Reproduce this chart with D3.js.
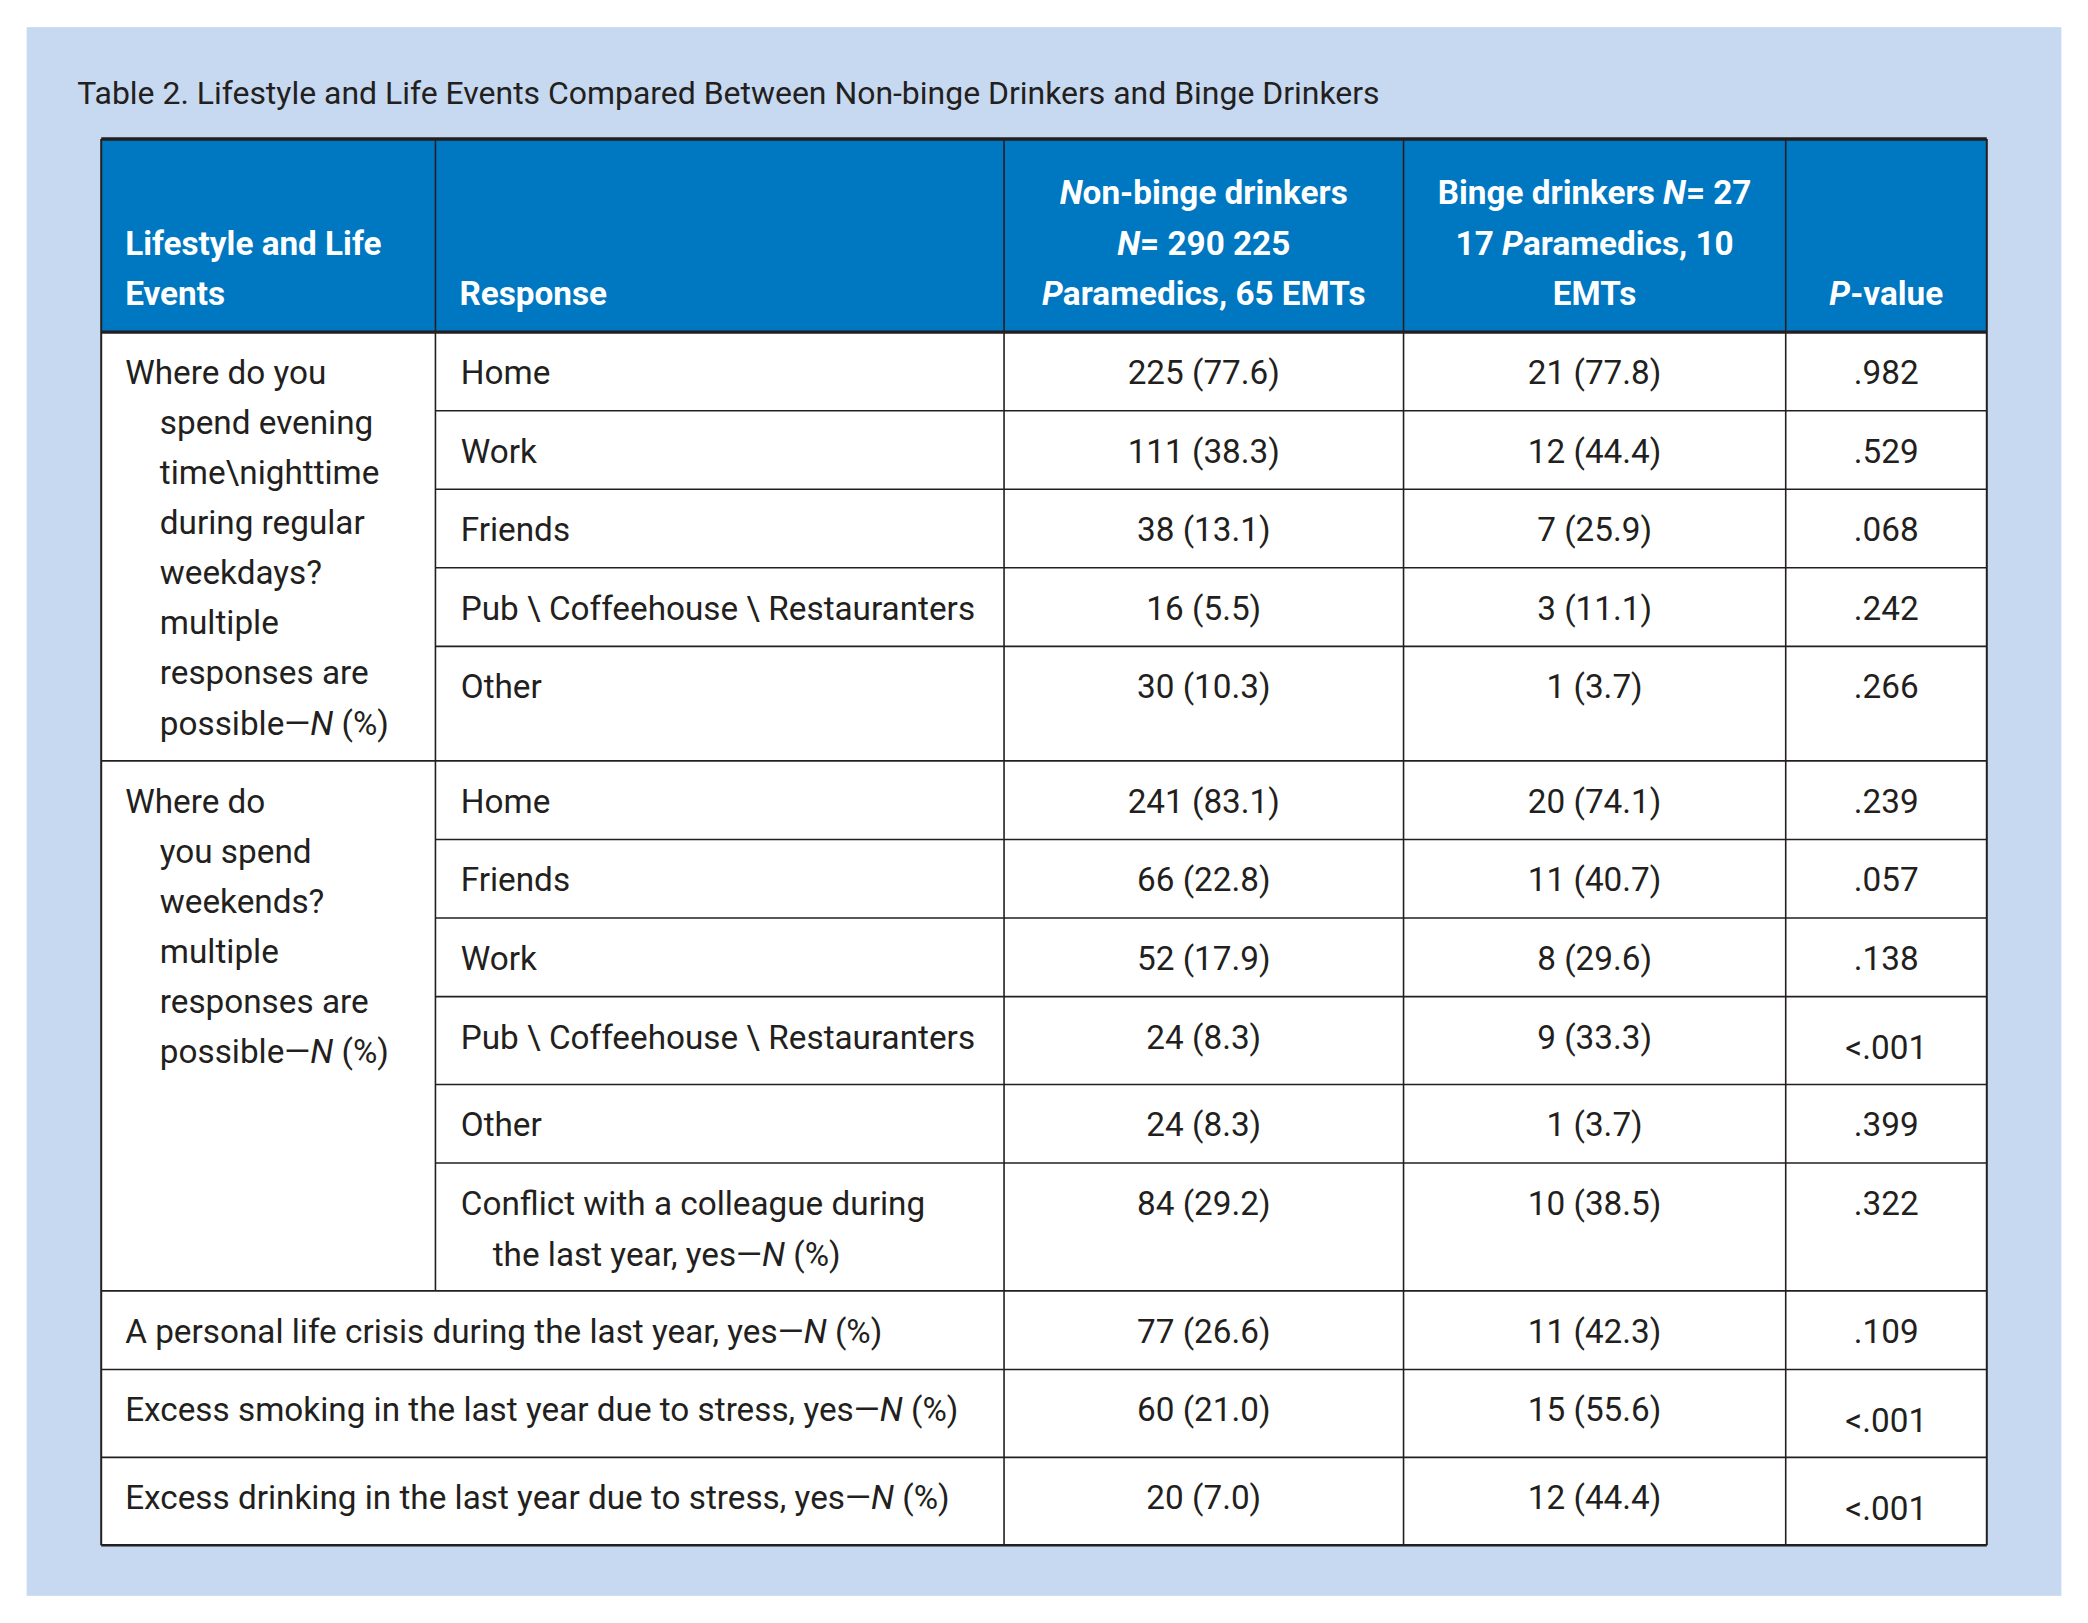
<!DOCTYPE html>
<html><head><meta charset="utf-8">
<script src="https://cdn.jsdelivr.net/npm/d3@7"></script>
<style>
body{margin:0;background:#fff}
text{font-family:"Liberation Sans Narrow","Roboto","DejaVu Sans Condensed",sans-serif;font-size:25px;fill:#231f20}
</style></head><body><div id="chart"></div>
<script>
// table content
const title = "Table 2.  Lifestyle and Life Events Compared Between Non-binge Drinkers and Binge Drinkers";
const headers = [["Lifestyle and Life", "Events"], ["Response"], ["Non-binge drinkers", "N= 290 225", "Paramedics, 65 EMTs"], ["Binge drinkers N= 27", "17 Paramedics, 10", "EMTs"], ["P-value"]];
const groupLabels = [
  ["Where do you", "spend evening", "time\\nighttime", "during regular", "weekdays?", "multiple", "responses are", "possible—N (%)"],
  ["Where do", "you spend", "weekends?", "multiple", "responses are", "possible—N (%)"]
];
const responses = ["Home", "Work", "Friends", "Pub \\ Coffeehouse \\ Restauranters", "Other",
  "Home", "Friends", "Work", "Pub \\ Coffeehouse \\ Restauranters", "Other",
  "Conflict with a colleague during|the last year, yes—N (%)",
  "A personal life crisis during the last year, yes—N (%)",
  "Excess smoking in the last year due to stress, yes—N (%)",
  "Excess drinking in the last year due to stress, yes—N (%)"];
const nonBinge = ["225 (77.6)", "111 (38.3)", "38 (13.1)", "16 (5.5)", "30 (10.3)", "241 (83.1)", "66 (22.8)", "52 (17.9)", "24 (8.3)", "24 (8.3)", "84 (29.2)", "77 (26.6)", "60 (21.0)", "20 (7.0)"];
const binge = ["21 (77.8)", "12 (44.4)", "7 (25.9)", "3 (11.1)", "1 (3.7)", "20 (74.1)", "11 (40.7)", "8 (29.6)", "9 (33.3)", "1 (3.7)", "10 (38.5)", "11 (42.3)", "15 (55.6)", "12 (44.4)"];
const pValues = [".982", ".529", ".068", ".242", ".266", ".239", ".057", ".138", "<.001", ".399", ".322", ".109", "<.001", "<.001"];
const rowGroup = [0, 0, 0, 0, 0, 1, 1, 1, 1, 1, 1, -1, -1, -1];
const rowEdges = [249, 308, 367, 426, 485, 571, 630, 689, 748, 814, 873, 969, 1028, 1094, 1160];
const colEdges = [76, 327, 754, 1054, 1341, 1492];

const svg = d3.select("#chart").append("svg")
  .attr("width", 2088).attr("height", 1623)
  .attr("viewBox", "0 0 1568 1218");

svg.append("rect").attr("x", 20).attr("y", 20).attr("width", 1528).attr("height", 1178).attr("fill", "#c6d9f0");
svg.append("text").attr("x", 58).attr("y", 78).style("font-size", "24px").text(title);

const tableTop = 104, tableBottom = rowEdges[rowEdges.length - 1];
const x = d3.scaleOrdinal().domain(d3.range(6)).range(colEdges);
const cx = i => (x(i) + x(i + 1)) / 2;

svg.append("rect").attr("x", x(0)).attr("y", tableTop).attr("width", x(5) - x(0)).attr("height", rowEdges[0] - tableTop).attr("fill", "#0077c1");
svg.append("rect").attr("x", x(0)).attr("y", rowEdges[0]).attr("width", x(5) - x(0)).attr("height", tableBottom - rowEdges[0]).attr("fill", "#fff");

// header text, bottom aligned
headers.forEach((lines, c) => {
  const t = svg.append("text").style("fill", "#fff").style("font-weight", "bold")
    .attr("text-anchor", c < 2 ? "start" : "middle");
  lines.forEach((l, i) => {
    const y = 229 - (lines.length - 1 - i) * 38;
    const span = t.append("tspan").attr("x", c < 2 ? x(c) + 18 : cx(c)).attr("y", y);
    const m = l.match(/^(.*?)(N|P)(=? ?.*)$/);
    if (m && c >= 2) {
      span.text(null);
      span.append("tspan").text(m[1]);
      span.append("tspan").style("font-style", "italic").text(m[2]);
      span.append("tspan").text(m[3]);
    } else span.text(l);
  });
});

function richText(sel, str) {
  str.split(/(N \(%\))/).forEach(p => {
    if (p === "N (%)") { sel.append("tspan").style("font-style", "italic").text("N"); sel.append("tspan").text(" (%)"); }
    else if (p) sel.append("tspan").text(p);
  });
}

// group labels
const groupStart = [0, 5];
groupLabels.forEach((lines, g) => {
  const y0 = rowEdges[groupStart[g]];
  lines.forEach((l, i) => {
    const t = svg.append("text").attr("x", i === 0 ? 94 : 120).attr("y", y0 + 39 + i * 37.6);
    richText(t, l);
  });
});

// rows
responses.forEach((r, i) => {
  const y0 = rowEdges[i];
  const spanning = rowGroup[i] < 0;
  r.split("|").forEach((l, k) => {
    const t = svg.append("text").attr("x", spanning ? 94 : (k === 0 ? 346 : 370)).attr("y", y0 + 39 + k * 38);
    richText(t, l);
  });
  [nonBinge[i], binge[i], pValues[i]].forEach((v, c) => {
    const low = v.startsWith("<") ? 8 : 0;
    svg.append("text").attr("text-anchor", "middle").attr("x", cx(c + 2)).attr("y", y0 + 39 + low).text(v);
  });
});

// grid lines
const stroke = "#231f20";
rowEdges.slice(1, -1).forEach((y, i) => {
  const g = rowGroup[i], gn = rowGroup[i + 1];
  const startCol = (g >= 0 && g === gn) ? 1 : 0;
  svg.append("line").attr("x1", x(startCol)).attr("x2", x(5)).attr("y1", y).attr("y2", y).attr("stroke", stroke).attr("stroke-width", 1.2);
});
d3.range(1, 5).forEach(c => {
  const yEnd = c === 1 ? rowEdges[11] : tableBottom;
  svg.append("line").attr("x1", x(c)).attr("x2", x(c)).attr("y1", tableTop).attr("y2", yEnd).attr("stroke", stroke).attr("stroke-width", 1.2);
});
[0, 5].forEach(c => svg.append("line").attr("x1", x(c)).attr("x2", x(c)).attr("y1", tableTop).attr("y2", tableBottom).attr("stroke", stroke).attr("stroke-width", 1.5));
[[tableTop, 2.5], [rowEdges[0], 2.5], [tableBottom, 2]].forEach(([y, w]) =>
  svg.append("line").attr("x1", x(0)).attr("x2", x(5)).attr("y1", y).attr("y2", y).attr("stroke", stroke).attr("stroke-width", w));
</script></body></html>
